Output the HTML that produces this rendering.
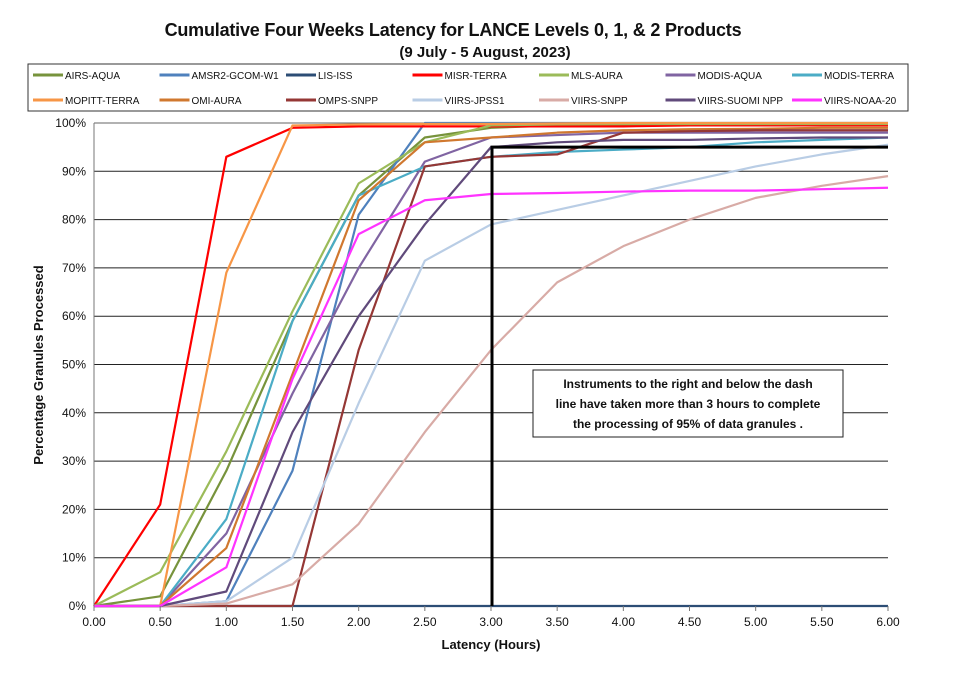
<!DOCTYPE html>
<html><head><meta charset="utf-8"><style>
body{margin:0;background:#fff;font-family:"Liberation Sans",sans-serif}
</style></head><body>
<svg width="955" height="683" xmlns="http://www.w3.org/2000/svg" font-family="Liberation Sans, sans-serif">
<rect width="955" height="683" fill="#fff"/>
<text x="453" y="36" text-anchor="middle" font-size="18" font-weight="bold" fill="#111" letter-spacing="-0.2">Cumulative Four Weeks Latency  for LANCE Levels 0, 1, &amp; 2 Products</text>
<text x="485" y="57" text-anchor="middle" font-size="15" font-weight="bold" fill="#111">(9 July  - 5 August, 2023)</text>
<rect x="28" y="64" width="880" height="47" fill="#fff" stroke="#333" stroke-width="1"/>
<g id="legend"></g>
<g id="grid"></g>
<g id="series"></g>
<g id="axes"></g>
<text x="491" y="649" text-anchor="middle" font-size="13" font-weight="bold" fill="#111">Latency (Hours)</text>
<text transform="translate(43,365) rotate(-90)" text-anchor="middle" font-size="13" font-weight="bold" fill="#111">Percentage Granules Processed</text>
<g>
<rect x="533" y="370" width="310" height="67" fill="#fff" stroke="#222" stroke-width="1"/>
<text x="688" y="388" text-anchor="middle" font-size="12" font-weight="bold" fill="#111">Instruments to the right and below the dash</text>
<text x="688" y="408" text-anchor="middle" font-size="12" font-weight="bold" fill="#111">line have taken more than 3 hours to complete</text>
<text x="688" y="428" text-anchor="middle" font-size="12" font-weight="bold" fill="#111">the processing of 95% of data granules .</text>
</g>
</svg>
<script>
const xTicks=[0,0.5,1,1.5,2,2.5,3,3.5,4,4.5,5,5.5,6];
const yTicks=[0,10,20,30,40,50,60,70,80,90,100];
const names=["AIRS-AQUA","AMSR2-GCOM-W1","LIS-ISS","MISR-TERRA","MLS-AURA","MODIS-AQUA","MODIS-TERRA","MOPITT-TERRA","OMI-AURA","OMPS-SNPP","VIIRS-JPSS1","VIIRS-SNPP","VIIRS-SUOMI NPP","VIIRS-NOAA-20"];
const colors=["#77933C","#4F81BD","#2C4D75","#FF0000","#9BBB59","#8064A2","#4BACC6","#F79646","#D0782F","#953735","#B9CDE5","#D8ABA6","#604A7B","#FF33FF"];
const airs=[0,2,28,59,85,97,99,99.5,99.7,99.8,99.8,99.8,99.8];
const amsr2=[0,0,1,28,81,100,100,100,100,100,100,100,100];
const lis=[0,0,0,0,0,0,0,0,0,0,0,0,0];
const misr=[0,21,93,99,99.3,99.3,99.3,99.3,99.3,99.5,99.5,99.5,99.5];
const mls=[0,7,32,61,87.5,96,99.5,99.7,99.8,99.8,99.8,99.8,99.8];
const modisAqua=[0,0,15,44,70,92,97,97.5,98,98,98,98,98];
const modisTerra=[0,0,18,59,85,91,93,94,94.5,95,96,96.5,97];
const mopitt=[0,0,69,99.5,99.7,99.8,99.8,99.9,100,100,100,100,100];
const omi=[0,0,12,48,84,96,97,98,98.5,98.7,98.8,99,99];
const omps=[0,0,0,0,53,91,93,93.5,98,98.3,98.5,98.5,98.5];
const jpss1=[0,0,1,10,42,71.5,79,82,85,88,91,93.5,95.5];
const viirsSnpp=[0,0,0.5,4.5,17,36,53,67,74.5,80,84.5,87,89];
const suomi=[0,0,3,36,60,79,95,96,96.5,96.5,96.8,97,97];
const noaa20=[0,0,8,47,77,84,85.3,85.5,85.8,86,86,86.3,86.6];
const seriesVals=[airs,amsr2,lis,misr,mls,modisAqua,modisTerra,mopitt,omi,omps,jpss1,viirsSnpp,suomi,noaa20];
const thresholdX=3, thresholdY=95;
const NS="http://www.w3.org/2000/svg";
const X0=94,X1=888,Y0=606,Y1=123;
const sx=v=>X0+(v-0)/(6-0)*(X1-X0);
const sy=v=>Y0-(v/100)*(Y0-Y1);
function mk(t,a,p){const e=document.createElementNS(NS,t);for(const k in a)e.setAttribute(k,a[k]);p.appendChild(e);return e;}
const grid=document.getElementById('grid'),axes=document.getElementById('axes'),ser=document.getElementById('series'),leg=document.getElementById('legend');
yTicks.forEach(v=>{
  const l=mk('line',{x1:X0,x2:X1,y1:sy(v),y2:sy(v),stroke:v==100?'#666':'#222','stroke-width':1},grid);
  
  
  const t=mk('text',{x:X0-8,y:sy(v)+4,'text-anchor':'end','font-size':12,fill:'#111'},axes);
  t.textContent=v+'%';
  
  
});
const ax=mk('line',{x1:X0,x2:X0,y1:Y1,y2:Y0,stroke:'#777','stroke-width':1},axes);


xTicks.forEach(v=>{
  mk('line',{x1:sx(v),x2:sx(v),y1:Y0,y2:Y0+5,stroke:'#777'},axes);
  const t=mk('text',{x:sx(v),y:Y0+20,'text-anchor':'middle','font-size':12,fill:'#111'},axes);
  t.textContent=v.toFixed(2);
  
  
});
seriesVals.forEach((vals,i)=>{
  const pts=vals.map((v,j)=>sx(xTicks[j])+','+sy(v)).join(' ');
  const p=mk('polyline',{points:pts,fill:'none',stroke:colors[i],'stroke-width':2.2,'stroke-linejoin':'round'},ser);
  
  
});
const tx=sx(thresholdX)+1;
const th=mk('polyline',{points:tx+','+sy(0)+' '+tx+','+sy(thresholdY)+' '+X1+','+sy(thresholdY),fill:'none',stroke:'#000','stroke-width':3},ser);


names.forEach((n,i)=>{
  const col=i%7,row=Math.floor(i/7);
  const x=33+col*126.5,y=75+row*25;
  const g=mk('g',{},leg);
  
  
  mk('line',{x1:x,x2:x+30,y1:y,y2:y,stroke:colors[i],'stroke-width':3},g);
  const t=mk('text',{x:x+32,y:y+4,'font-size':10,fill:'#111'},g);
  t.textContent=n;
});
</script>
</body></html>
